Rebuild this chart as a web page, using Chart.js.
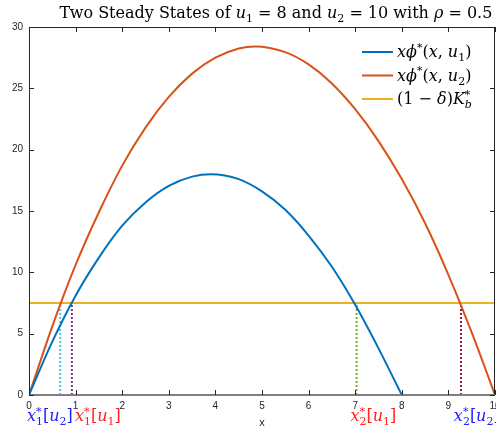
<!DOCTYPE html>
<html>
<head>
<meta charset="utf-8">
<script src="https://cdn.jsdelivr.net/npm/chart.js@4.4.0/dist/chart.umd.min.js"></script>
<style>
  html, body { margin: 0; padding: 0; background: #fff; overflow: hidden; }
  canvas { display: block; }
</style>
</head>
<body>
<canvas id="chart" width="496" height="430"></canvas>
<script>
// values
const blueX = [0, 0.5, 1, 1.5, 2, 2.5, 3, 3.5, 3.9, 4.5, 5, 5.5, 6, 6.5, 7, 7.5, 8];
const blueY = [0, 4.35, 8.1, 11.2, 13.8, 15.7, 17.05, 17.8, 18.0, 17.6, 16.6, 15.1, 13.0, 10.45, 7.35, 3.8, 0];
const orangeX = [0, 0.5, 1, 1.5, 2, 2.5, 3, 3.5, 4, 4.5, 4.85, 5.5, 6, 6.5, 7, 7.5, 8, 8.5, 9, 9.5, 10];
const orangeY = [0, 5.6, 10.6, 14.9, 18.7, 21.8, 24.3, 26.2, 27.5, 28.25, 28.42, 27.95, 26.95, 25.4, 23.3, 20.7, 17.6, 14.0, 9.8, 5.1, 0];
const kbLevel = 7.5;
const steadyX = [0.67, 0.92, 7.03, 9.27];
const xTicks = [0, 1, 2, 3, 4, 5, 6, 7, 8, 9, 10];
const yTicks = [0, 5, 10, 15, 20, 25, 30];
// where the x*[u] labels sit along the x axis
const starLabelX = [0, 1.03, 6.94, 9.16];

const SERIF = '"DejaVu Serif", "Liberation Serif", serif';
const SANS = '"Liberation Sans", Arial, sans-serif';
const AXIS = "#262626";
const steadyColors = ["#4DBEEE", "#7E2F8E", "#77AC30", "#A2142F"];

// tiny rich text: {t, i: italic, s: 'sub'|'sup', stack: next part shares x}
function partFont(p, size) {
  const sz = p.s ? Math.round(size * 0.7) : size;
  return (p.i ? "italic " : "") + sz + "px " + SERIF;
}
function richWidth(ctx, parts, size) {
  let x = 0, held = 0;
  parts.forEach(p => {
    ctx.font = partFont(p, size);
    const w = ctx.measureText(p.t).width;
    if (p.stack) { held = w; return; }
    x += Math.max(w, held);
    held = 0;
  });
  return x;
}
function drawRich(ctx, parts, x, y, size, align, color) {
  let cx = align === "center" ? x - richWidth(ctx, parts, size) / 2 : x;
  let held = 0;
  ctx.fillStyle = color;
  ctx.textAlign = "left";
  ctx.textBaseline = "alphabetic";
  parts.forEach(p => {
    ctx.font = partFont(p, size);
    const w = ctx.measureText(p.t).width;
    let dy = 0;
    if (p.s === "sub") dy = size * 0.25;
    if (p.s === "sup") dy = -size * 0.38;
    ctx.fillText(p.t, cx, y + dy);
    if (p.stack) { held = w; return; }
    cx += Math.max(w, held);
    held = 0;
  });
}

const titleParts = [
  { t: "Two Steady States of " }, { t: "u", i: true }, { t: "1", s: "sub" },
  { t: " = 8 and " }, { t: "u", i: true }, { t: "2", s: "sub" },
  { t: " = 10 with " }, { t: "ρ", i: true }, { t: " = 0.5" }
];
const legendItems = [
  { color: "#0072BD", parts: [{ t: "xϕ", i: true }, { t: "*", s: "sup" }, { t: "(" }, { t: "x", i: true }, { t: ", " }, { t: "u", i: true }, { t: "1", s: "sub" }, { t: ")" }] },
  { color: "#D95319", parts: [{ t: "xϕ", i: true }, { t: "*", s: "sup" }, { t: "(" }, { t: "x", i: true }, { t: ", " }, { t: "u", i: true }, { t: "2", s: "sub" }, { t: ")" }] },
  { color: "#EDB120", parts: [{ t: "(1 − " }, { t: "δ", i: true }, { t: ")" }, { t: "K", i: true }, { t: "*", s: "sup", stack: true }, { t: "b", i: true, s: "sub" }] }
];
function starParts(a, b) {
  return [{ t: "x", i: true }, { t: "*", s: "sup", stack: true }, { t: a, s: "sub" },
    { t: "[" }, { t: "u", i: true }, { t: b, s: "sub" }, { t: "]" }];
}
const starLabels = [
  { parts: starParts("1", "2"), color: "#2020FF" },
  { parts: starParts("1", "1"), color: "#FF2020" },
  { parts: starParts("2", "1"), color: "#FF2020" },
  { parts: starParts("2", "2"), color: "#2020FF" }
];

const axesPlugin = {
  id: "matlabAxes",
  afterDraw(chart) {
    const ctx = chart.ctx;
    const a = chart.chartArea;
    const xs = chart.scales.x, ys = chart.scales.y;
    ctx.save();

    // box
    ctx.strokeStyle = AXIS;
    ctx.lineWidth = 1;
    ctx.beginPath();
    ctx.moveTo(a.left + 0.5, a.bottom);
    ctx.lineTo(a.left + 0.5, a.top + 0.5);
    ctx.lineTo(a.right - 0.5, a.top + 0.5);
    ctx.lineTo(a.right - 0.5, a.bottom);
    ctx.stroke();
    ctx.strokeStyle = "#808080";
    ctx.lineWidth = 2;
    ctx.beginPath();
    ctx.moveTo(a.left, a.bottom);
    ctx.lineTo(a.right, a.bottom);
    ctx.stroke();

    // inward ticks
    ctx.strokeStyle = AXIS;
    ctx.lineWidth = 1;
    ctx.beginPath();
    xTicks.forEach(v => {
      const px = Math.round(xs.getPixelForValue(v)) + 0.5;
      ctx.moveTo(px, a.bottom); ctx.lineTo(px, a.bottom - 5);
      ctx.moveTo(px, a.top); ctx.lineTo(px, a.top + 5);
    });
    yTicks.forEach(v => {
      const py = Math.round(ys.getPixelForValue(v)) + 0.5;
      ctx.moveTo(a.left, py); ctx.lineTo(a.left + 5, py);
      ctx.moveTo(a.right, py); ctx.lineTo(a.right - 5, py);
    });
    ctx.stroke();

    // tick labels
    ctx.fillStyle = AXIS;
    ctx.font = "10px " + SANS;
    ctx.textAlign = "center";
    ctx.textBaseline = "middle";
    xTicks.forEach(v => ctx.fillText(String(v), xs.getPixelForValue(v), a.bottom + 11));
    ctx.textAlign = "right";
    yTicks.forEach(v => ctx.fillText(String(v), a.left - 6, ys.getPixelForValue(v)));

    // axis label
    ctx.textAlign = "center";
    ctx.font = "11px " + SANS;
    ctx.fillText("x", (a.left + a.right) / 2, a.bottom + 28);

    // steady state labels
    starLabels.forEach((s, i) => {
      drawRich(ctx, s.parts, xs.getPixelForValue(starLabelX[i]) - 2, a.bottom + 26, 16, "left", s.color);
    });

    // title
    drawRich(ctx, titleParts, 276, 18, 16, "center", "#000");

    // legend
    legendItems.forEach((it, i) => {
      const cy = 52 + i * 23.5;
      ctx.strokeStyle = it.color;
      ctx.lineWidth = 2;
      ctx.beginPath();
      ctx.moveTo(362, cy);
      ctx.lineTo(393, cy);
      ctx.stroke();
      drawRich(ctx, it.parts, 397, cy + 5, 16, "left", "#000");
    });

    ctx.restore();
  }
};

function toPoints(xArr, yArr) {
  return xArr.map((x, i) => ({ x: x, y: yArr[i] }));
}
function vline(x, color) {
  return {
    data: [{ x: x, y: 0 }, { x: x, y: kbLevel }],
    borderColor: color,
    borderWidth: 2,
    borderDash: [2, 2],
    pointRadius: 0
  };
}

const datasets = [
  { data: toPoints(blueX, blueY), borderColor: "#0072BD", borderWidth: 2, pointRadius: 0, cubicInterpolationMode: "monotone" },
  { data: toPoints(orangeX, orangeY), borderColor: "#D95319", borderWidth: 2, pointRadius: 0, cubicInterpolationMode: "monotone" },
  { data: [{ x: 0, y: kbLevel }, { x: 10, y: kbLevel }], borderColor: "#EDB120", borderWidth: 2, pointRadius: 0 }
];
steadyX.forEach((x, i) => datasets.push(vline(x, steadyColors[i])));

new Chart(document.getElementById("chart").getContext("2d"), {
  type: "line",
  data: { datasets: datasets },
  options: {
    responsive: false,
    animation: false,
    layout: { padding: { left: 29, right: 1, top: 27, bottom: 35 } },
    plugins: { legend: { display: false }, title: { display: false }, tooltip: { enabled: false } },
    scales: {
      x: { type: "linear", min: 0, max: 10, display: false },
      y: { type: "linear", min: 0, max: 30, display: false }
    }
  },
  plugins: [axesPlugin]
});
</script>
</body>
</html>
